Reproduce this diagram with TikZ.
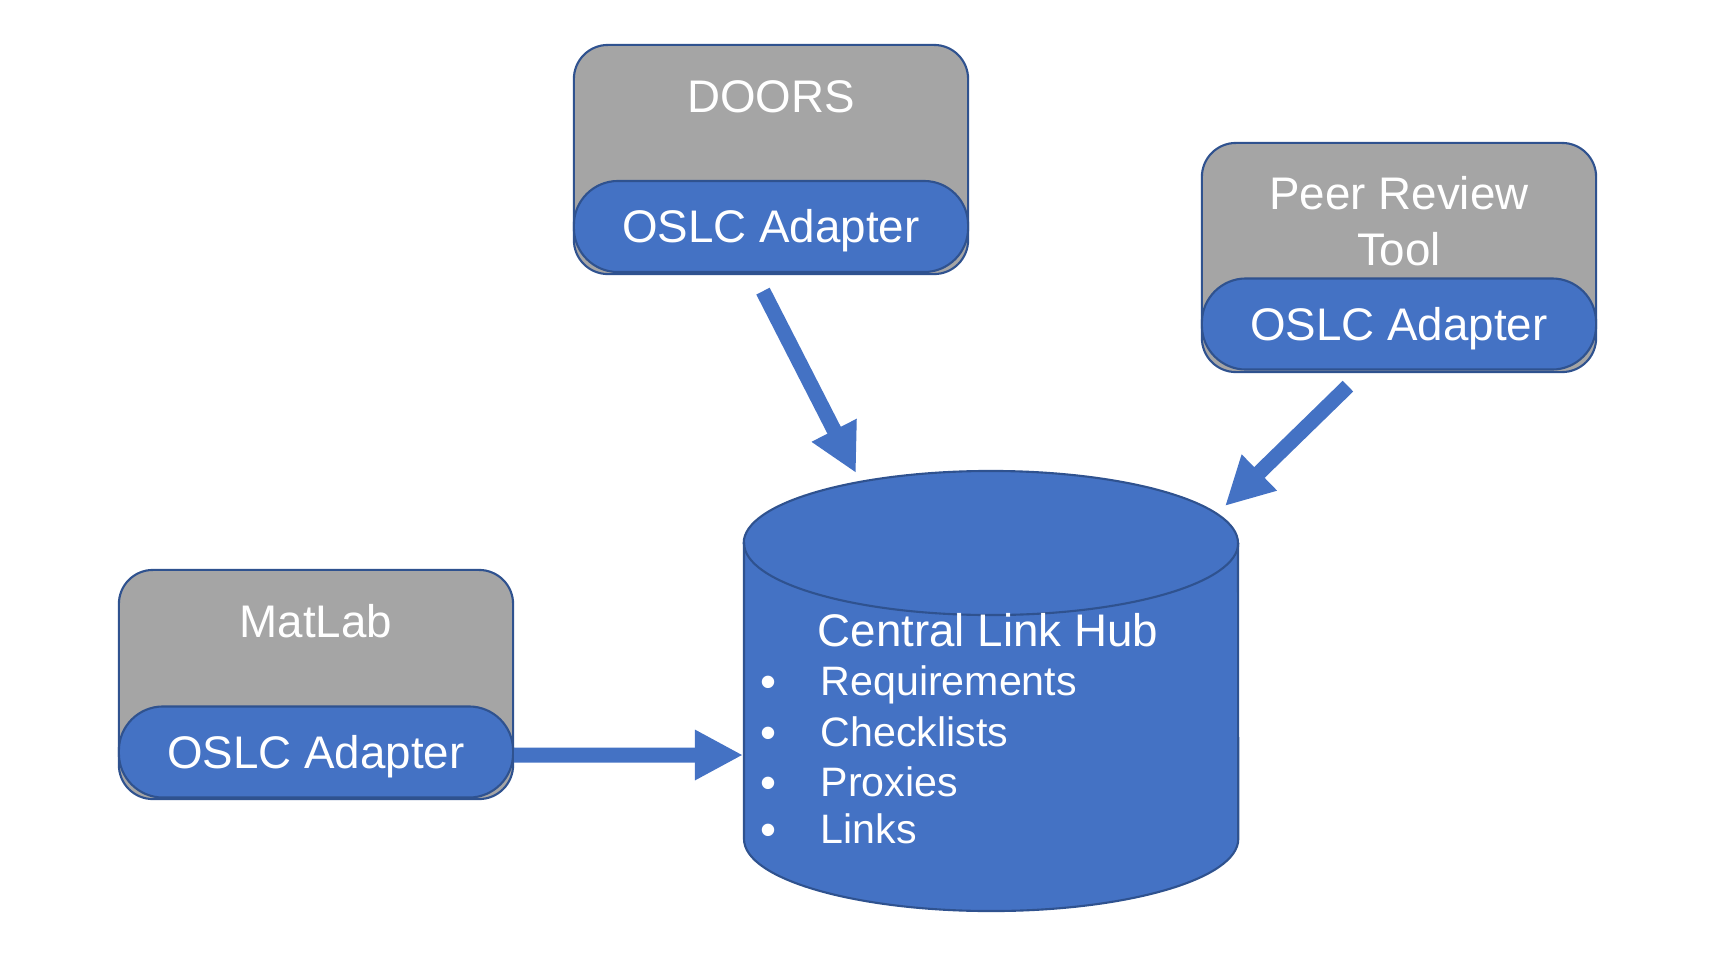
\documentclass[tikz,border=0pt]{standalone}
\usepackage{fontspec}
\setmainfont{Liberation Sans}
\usetikzlibrary{arrows.meta}

\definecolor{hubblue}{HTML}{4472C4}
\definecolor{toolgray}{HTML}{A5A5A5}
\definecolor{rimblue}{HTML}{2F528F}

\begin{document}
\begin{tikzpicture}[x=0.01cm, y=-0.01cm,
    every node/.style={text=white, inner sep=0pt, font=\fontsize{13}{16}\selectfont},
    oneline/.style={text height=9.3pt, text depth=0pt},
    toolbox/.style={draw=rimblue, fill=toolgray, line width=0.6pt, rounded corners=0.34cm,
      minimum width=3.94cm, minimum height=2.29cm},
    adapter/.style={oneline, draw=rimblue, fill=hubblue, line width=0.6pt, rounded corners=0.44cm,
      minimum width=3.94cm, minimum height=0.91cm},
    hubtext/.style={oneline, anchor=west},
    itemtext/.style={anchor=west, font=\fontsize{11.7}{14}\selectfont, text height=8.4pt, text depth=0pt},
    fatarrow/.style={draw=hubblue, line width=0.15cm, -{Triangle[length=0.48cm, width=0.47cm]}}]
    \useasboundingbox (0,0) rectangle (1726,954);

    \node[toolbox] (doors) at (771,159.5) {};
    \node[adapter] (doorsadapter) at (771,226.5) {OSLC Adapter};
    \node[oneline] (doorsname) at (771,96) {DOORS};

    \node[toolbox] (peer) at (1399,257.5) {};
    \node[adapter] (peeradapter) at (1399,324) {OSLC Adapter};
    \node[align=center] (peername) at (1399,221) {Peer Review\\Tool};

    \node[toolbox] (matlab) at (316,684.5) {};
    \node[adapter] (matlabadapter) at (316,752) {OSLC Adapter};
    \node[oneline] (matlabname) at (316,621) {MatLab};

    \filldraw[fill=hubblue, draw=rimblue, line width=0.6pt] (744,543) -- (744,839)
      arc[start angle=180, end angle=360, x radius=2.47cm, y radius=0.72cm] -- (1238,543)
      arc[start angle=0, end angle=180, x radius=2.47cm, y radius=0.72cm] -- cycle;
    \draw[rimblue, line width=0.6pt] (744,543)
      arc[start angle=180, end angle=360, x radius=2.47cm, y radius=0.72cm];

    \node[hubtext] (hubname) at (817,630) {Central Link Hub};
    \foreach \lbl/\yy [count=\i] in {Requirements/681, Checklists/732, Proxies/782, Links/829} {
      \node[itemtext] (item\i) at (820,\yy) {\lbl};
      \node[oneline] (dot\i) at (768,\yy) {\textbullet};
    }

    \coordinate (doorsin) at (856,473);
    \coordinate (peerin) at (1225,506);
    \coordinate (matlabin) at (743,755);

    \draw[fatarrow] ([xshift=-0.08cm, yshift=-0.16cm]doors.south) -- (doorsin);
    \draw[fatarrow] ([xshift=-0.51cm, yshift=-0.13cm]peer.south) -- (peerin);
    \draw[fatarrow] ([yshift=-0.03cm]matlabadapter.east) -- (matlabin);
\end{tikzpicture}
\end{document}
